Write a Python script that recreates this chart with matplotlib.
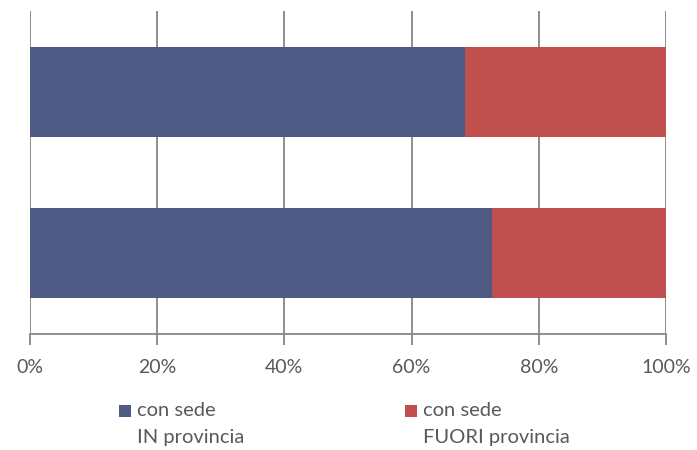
import matplotlib
matplotlib.use("Agg")
import matplotlib.pyplot as plt
from matplotlib.ticker import FuncFormatter
from matplotlib.patches import Rectangle

categories = ["B", "A"]          # bottom bar, top bar (no labels shown)
in_prov = [72.7, 68.4]
fuori_prov = [27.3, 31.6]
series_names = ["con sede\nIN provincia", "con sede\nFUORI provincia"]
xticks = [0, 20, 40, 60, 80, 100]

blue = "#4F5A85"
red = "#C0504D"
grid_c = "#868686"
text_c = "#595959"

plt.rcParams['font.family'] = ['Lato', 'DejaVu Sans']

W, H = 697, 450
fig = plt.figure(figsize=(W/100, H/100), dpi=100)
ax = fig.add_axes([30/W, 1 - 334/H, 636/W, 323/H])

y = list(range(len(categories)))
h = 0.557
colors = [blue, red]
b1 = ax.barh(y, in_prov, height=h, color=blue, label=series_names[0], zorder=3)
b2 = ax.barh(y, fuori_prov, left=in_prov, height=h, color=red, label=series_names[1], zorder=3)

ax.set_xlim(0, 100)
ax.set_ylim(-0.5, 1.5)
ax.set_xticks(xticks)
ax.xaxis.set_major_formatter(FuncFormatter(lambda v, p: f"{int(v)}%"))
ax.set_yticks([])
ax.grid(axis='x', color=grid_c, linewidth=1.3, zorder=0)
for s in ["top", "right", "left"]:
    ax.spines[s].set_visible(False)
ax.spines["bottom"].set_color(grid_c)
ax.spines["bottom"].set_linewidth(1.3)
ax.tick_params(axis='x', direction='out', length=8, width=1.3, color=grid_c,
               labelcolor=text_c, labelsize=14, pad=10)

# legend drawn manually (square aligned with first line of a two-line label)
leg_x = [119, 405]
for lx, name, c in zip(leg_x, series_names, colors):
    fig.patches.append(Rectangle((lx/W, 1 - 417/H), 12/W, 12/H, transform=fig.transFigure,
                                 facecolor=c, edgecolor='none'))
    fig.text((lx + 18)/W, 1 - 402/H, name, ha='left', va='top', fontsize=14.5,
             color=text_c, linespacing=1.7)

fig.savefig("out.png", dpi=100)
